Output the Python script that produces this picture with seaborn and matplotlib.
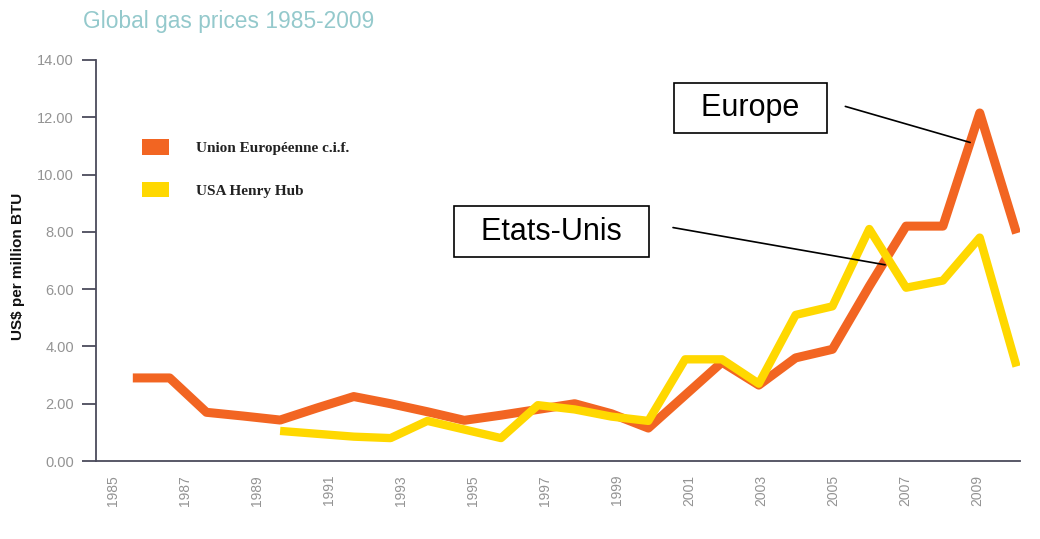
"""Global gas prices 1985-2009 : Europe c.i.f. vs USA Henry Hub."""
import numpy as np
import pandas as pd
import matplotlib
matplotlib.use("Agg")
import matplotlib.pyplot as plt
from matplotlib.patches import Patch
import seaborn as sns

# data (US$ per million BTU)
years = list(range(1985, 2010))
europe = [2.9, 2.9, 1.7, 1.57, 1.43, 1.85, 2.25, 2.0, 1.72, 1.42,
          1.6, 1.8, 2.0, 1.65, 1.15, 2.3, 3.45, 2.65, 3.6, 3.9,
          6.1, 8.2, 8.2, 12.15, 7.95]
usa = [np.nan, np.nan, np.nan, np.nan, 1.05, 0.95, 0.85, 0.8, 1.4, 1.1,
       0.8, 1.95, 1.8, 1.55, 1.4, 3.55, 3.55, 2.7, 5.1, 5.4,
       8.1, 6.05, 6.3, 7.8, 3.3]
series_names = ["Union Européenne c.i.f.", "USA Henry Hub"]
series_colors = ["#f26522", "#ffd800"]
tick_years = list(range(1985, 2010, 2))
y_ticks = list(range(0, 15, 2))

df = pd.DataFrame({
    "year": years * 2,
    "price": europe + usa,
    "series": [series_names[0]] * len(years) + [series_names[1]] * len(years),
}).dropna()

sns.set_style("white")
plt.rcParams["font.family"] = ["Liberation Sans", "DejaVu Sans"]

fig = plt.figure(figsize=(10.4, 5.39), dpi=100)
ax = fig.add_axes([0.0923, 0.1447, 0.8887, 0.744])

sns.lineplot(
    data=df, x="year", y="price", hue="series",
    hue_order=series_names, palette=series_colors,
    linewidth=6.5, legend=False, ax=ax, sort=False,
)
for line, lw in zip(ax.get_lines(), [6.5, 6.0]):
    line.set_linewidth(lw)
    line.set_solid_joinstyle("round")
    line.set_solid_capstyle("butt")

ax.set_xlim(1984.0, 2009.1)
ax.set_ylim(0, 14)

axis_col = "#4b4b5c"
for side in ["top", "right"]:
    ax.spines[side].set_visible(False)
for side in ["left", "bottom"]:
    ax.spines[side].set_color(axis_col)
    ax.spines[side].set_linewidth(1.3)

ax.set_yticks(y_ticks)
ax.set_yticklabels([f"{v:.2f}" for v in y_ticks])
ax.tick_params(axis="y", length=10, width=1.3, color=axis_col, pad=6,
               labelsize=10.5, labelcolor="#939393", left=True)

# the year labels of the original sit a little left of the points and drift
tick_pos = [1984.45 + (y - 1985) * 0.979 for y in tick_years]
ax.set_xticks(tick_pos)
ax.set_xticklabels([str(y) for y in tick_years], rotation=90, va="top")
ax.tick_params(axis="x", length=0, pad=10, labelsize=10, labelcolor="#939393")
ax.set_xlabel("")
ax.set_ylabel("")

fig.text(0.017, 0.505, "US$ per million BTU", rotation=90, ha="center",
         va="center", fontsize=11, fontweight="bold", color="#111111")
fig.text(0.08, 0.96, "Global gas prices 1985-2009", ha="left", va="center",
         fontsize=16.4, color="#94c9cc")

# legend
handles = [Patch(facecolor=c, edgecolor="none") for c in series_colors]
leg = fig.legend(
    handles, series_names, loc="upper left", bbox_to_anchor=(0.1365, 0.742),
    frameon=False, borderpad=0, borderaxespad=0, handlelength=1.75,
    handleheight=1.2, handletextpad=1.8, labelspacing=1.75,
    prop={"family": "Liberation Serif", "weight": "bold", "size": 11},
)
for txt in leg.get_texts():
    txt.set_color("#222222")

# callout boxes
box = dict(boxstyle="square,pad=0.33", facecolor="white", edgecolor="black", linewidth=1.2)
ax.text(2001.77, 12.31, "  Europe  ", ha="center", va="center", fontsize=22,
        color="black", bbox=box)
ax.text(1996.36, 8.01, "  Etats-Unis  ", ha="center", va="center", fontsize=22,
        color="black", bbox=box)
line_style = dict(arrowstyle="-", color="black", linewidth=1.2, shrinkA=0, shrinkB=0)
ax.annotate("", xy=(2007.74, 11.12), xytext=(2004.35, 12.38), arrowprops=line_style)
ax.annotate("", xy=(2005.43, 6.85), xytext=(1999.67, 8.15), arrowprops=line_style)

fig.savefig("out.png", dpi=100)
